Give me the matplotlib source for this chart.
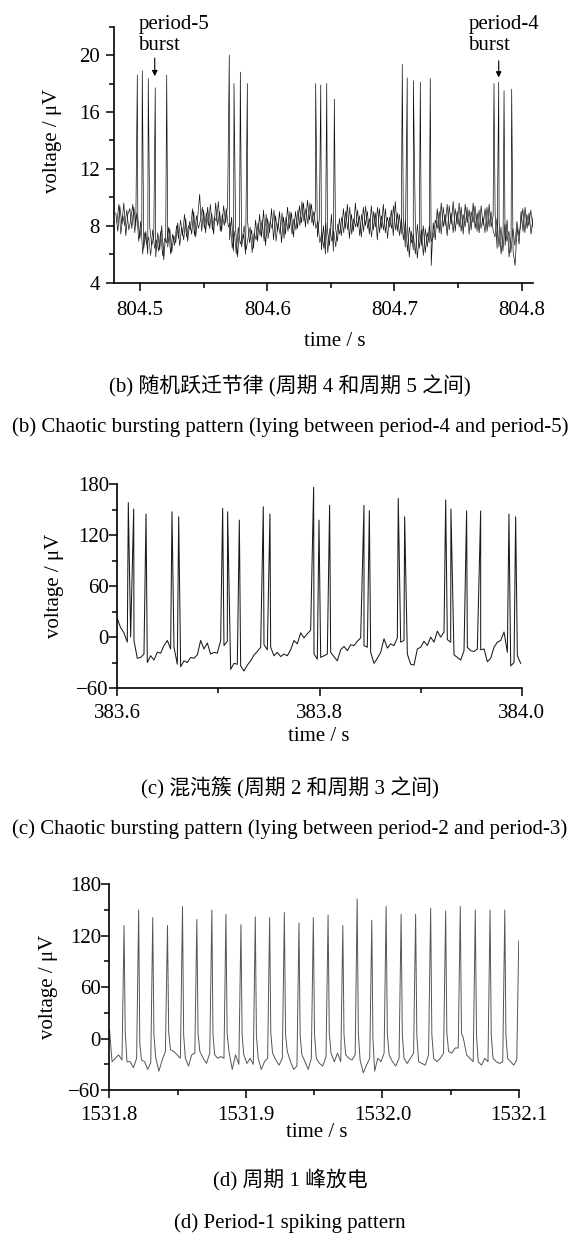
import numpy as np
import matplotlib
matplotlib.use("Agg")
import matplotlib.pyplot as plt
from matplotlib.ticker import MultipleLocator, FormatStrFormatter

plt.rcParams['font.family'] = ['Liberation Serif', 'Noto Sans CJK SC']
plt.rcParams['font.size'] = 15
plt.rcParams['axes.unicode_minus'] = True

# ---------------- panel (b): chaotic bursting, period-4 / period-5 ----------------
# noisy resting trace: two passes of evenly spaced samples
base1_a = [8.9, 7.6, 9.4, 8.1, 9.6, 7.3, 8.8, 9.2, 7.8, 9.3, 8.0,
           8.6, 7.1, 8.2, 6.4, 7.6, 6.0, 7.9, 6.6, 7.2, 5.8, 7.5, 6.3, 8.0, 5.6, 7.4, 6.5, 7.8, 6.1, 7.3, 6.8,
           8.2, 6.6, 7.9, 7.0, 8.5, 6.9, 8.3, 7.4, 9.0, 7.2, 8.6, 10.2, 7.6, 9.1, 7.5,
           9.3, 7.8, 8.9, 7.4, 9.6, 8.0, 9.0, 7.6, 9.4, 8.2, 9.5,
           7.0, 8.6, 6.2, 7.8, 5.8, 8.1, 6.5, 7.4, 6.0, 8.3, 6.8, 7.7, 6.4, 8.4,
           6.9, 8.8, 7.2, 9.1, 6.6, 8.5, 7.5, 9.2, 7.0, 8.7, 7.6, 9.0, 6.8, 8.6, 7.4, 9.3, 7.8, 8.9, 7.2, 9.0,
           7.8, 9.4, 8.2, 9.6, 7.9, 9.8, 8.4, 9.5, 8.0, 9.2,
           7.2, 8.6, 6.3, 8.0, 6.0, 7.7, 6.6, 8.8, 6.2, 7.9, 6.9, 8.5,
           7.3, 9.2, 7.8, 9.5, 7.1, 8.8, 7.6, 9.6, 7.9, 8.7, 7.2, 9.3, 8.0, 9.0, 7.4, 9.4,
           7.7, 8.9, 7.0, 9.2, 7.8, 9.5, 7.5, 8.6, 7.9, 9.1, 7.3, 9.7, 7.6, 8.8, 7.4,
           8.6, 6.5, 8.1, 5.8, 7.6, 6.3, 8.4, 5.7, 7.2, 6.6, 8.0, 6.1, 7.5, 6.8, 5.2, 8.2, 7.0,
           9.2, 7.5, 9.6, 7.9, 8.8, 7.3, 9.4, 8.1, 9.7, 7.6, 9.0, 7.9, 9.3, 7.4, 9.5,
           8.2, 9.1, 7.7, 9.6, 7.8, 8.9, 7.5, 9.4, 8.0, 9.2, 7.6, 9.5, 7.9, 8.7,
           8.8, 6.4, 8.2, 6.0, 7.5, 6.6, 8.4, 5.8, 7.3, 6.2, 5.2, 7.9, 6.7,
           9.0, 7.6, 9.3, 7.8, 8.9, 7.4, 8.6]
base1_b = [8.2, 9.5, 7.4, 8.7, 8.0, 9.1, 7.7, 8.4, 9.5, 7.5, 8.9,
           6.9, 8.3, 6.0, 7.5, 6.7, 7.2, 5.9, 7.7, 6.4, 7.0, 6.2, 7.6, 5.9, 7.1, 6.8, 7.9, 6.0, 7.4, 6.6, 8.0,
           7.1, 8.4, 7.3, 8.8, 7.2, 8.0, 7.7, 9.2, 7.3, 8.7, 7.8, 8.4, 9.3, 7.8, 8.9,
           8.0, 9.5, 7.7, 8.6, 8.3, 9.7, 7.6, 8.8, 8.0, 9.2, 7.9,
           8.2, 6.4, 7.6, 6.0, 7.9, 6.7, 7.1, 8.0, 6.3, 7.2, 7.9, 6.1, 7.5, 7.0,
           8.2, 7.3, 8.4, 6.9, 8.8, 7.1, 8.3, 7.8, 9.1, 6.9, 8.2, 7.4, 8.9, 7.1, 8.6, 7.6, 9.0, 7.4, 8.5, 7.7,
           9.1, 8.0, 9.7, 8.3, 9.2, 8.1, 9.6, 8.2, 9.0, 7.8,
           8.3, 6.8, 7.5, 6.4, 8.2, 6.1, 7.8, 6.9, 7.6, 6.5, 8.1, 7.4,
           8.6, 7.5, 9.0, 7.7, 9.3, 7.4, 8.5, 7.9, 9.1, 7.3, 8.8, 7.6, 9.4, 7.8, 8.5, 7.2,
           9.0, 7.9, 9.3, 7.5, 8.7, 7.7, 9.2, 7.1, 8.6, 7.8, 9.4, 7.7, 8.9, 7.3, 8.5,
           7.0, 8.4, 6.2, 7.9, 6.8, 7.4, 6.0, 8.1, 6.4, 7.7, 5.9, 7.8, 6.5, 8.0, 6.9, 7.2, 8.4,
           7.8, 9.0, 7.4, 9.3, 8.0, 9.5, 7.7, 8.9, 7.5, 9.2, 8.1, 9.6, 7.6, 8.8, 7.9,
           9.3, 7.4, 9.0, 8.2, 9.4, 7.6, 9.1, 7.8, 8.6, 7.5, 9.3, 7.9, 9.0, 7.7,
           7.2, 8.5, 6.5, 7.9, 6.2, 8.1, 6.9, 7.6, 6.1, 7.8, 6.6, 8.3, 7.3,
           8.1, 9.2, 7.5, 8.8, 8.0, 9.1, 7.9]
base1_a_span = (804.4810, 804.8090)
base1_b_span = (804.4818, 804.8088)
spk1_t = [804.4979, 804.5018, 804.5065, 804.5120, 804.5210,
          804.5702, 804.5739, 804.5789, 804.5844,
          804.6381, 804.6421, 804.6468, 804.6528,
          804.7062, 804.7101, 804.7149, 804.7204, 804.7282,
          804.7783, 804.7820, 804.7862, 804.7922]
spk1_v = [18.6, 18.9, 18.35, 17.7, 18.6,
          20.0, 18.0, 18.8, 18.0,
          18.0, 17.9, 18.0, 16.9,
          19.35, 18.4, 18.2, 18.1, 18.35,
          18.0, 18.1, 17.5, 17.6]
xt1 = [804.5, 804.6, 804.7, 804.8]
yt1 = [4, 8, 12, 16, 20]

# ---------------- panel (c): chaotic bursting, period-2 / period-3 ----------------
base2 = [21.7, 11, 5, -6, 0, -4, -25, -24, -20, -30,
         -22, -27, -18, -19, -10, -4, -14, -12, -32, -35,
         -28, -30, -24, -25, -21, -4, -14, -7, -20, -18,
         -19, -4, -10, -5, -38, -31, -32, -34, -40, -33,
         -28, -21, -17, -12, -9, -15, -12, -22, -18, -23,
         -20, -22, -15, -4, -8, 5, -1, 4, 8, -20,
         -26, -24, -22, -20, -18, -23, -28, -15, -11, -16,
         -9, -10, -5, -1, -10, -12, -18, -31, -25, -18,
         -2, -13, -8, -10, -1, -6, -4, -20, -32, -33,
         -14, -12, -5, -10, 0, -6, 7, 0, 6, -3,
         -6, -21, -24, -27, -16, -12, -16, -17, -14, -15,
         -14, -29, -25, -12, -6, -4, 6, -18, -34, -30,
         -22, -31]
base2_span = (383.6, 383.999)
spk2_t = [383.6109, 383.6162, 383.6284, 383.6541, 383.6607,
          383.7042, 383.7091, 383.7207, 383.7444, 383.7510,
          383.7942, 383.7995, 383.8100, 383.8440, 383.8493,
          383.8779, 383.8842, 383.9248, 383.9300, 383.9455,
          383.9594, 383.9874, 383.9940]
spk2_v = [158.3, 150.8, 145.0, 147.6, 141.7,
          151.6, 147.6, 137.8, 153.5, 145.0,
          176.5, 137.8, 155.2, 155.2, 149.0,
          163.5, 141.7, 161.5, 150.8, 148.6,
          148.6, 145.0, 141.7]
xt2 = [383.6, 383.8, 384.0]
yt2 = [-60, 0, 60, 120, 180]

# ---------------- panel (d): period-1 spiking ----------------
pre3_t = [1531.8002, 1531.8020, 1531.8044, 1531.8068, 1531.8093]
pre3_v = [10, -27, -23, -19, -25]
spk3_t = [1531.8108, 1531.8215, 1531.8318, 1531.8426, 1531.8536, 1531.8641, 1531.8751,
          1531.8854, 1531.8964, 1531.9069, 1531.9174, 1531.9282, 1531.9389, 1531.9494,
          1531.9602, 1531.9710, 1531.9815, 1531.9922, 1532.0027, 1532.0137, 1532.0243,
          1532.0353, 1532.0463, 1532.0570, 1532.0680, 1532.0788, 1532.0896, 1532.0998]
spk3_v = [132, 150, 141, 132, 154, 139, 150,
          145, 133, 142, 141, 147, 135, 141,
          144, 132, 163, 138, 154, 145, 145,
          152, 149, 154, 150, 150, 150, 114]
# resting values between consecutive spikes (read at 5 points per interval)
gap3_v = [[8, -27, -27, -34, -23], [-5, -25, -27, -36, -28], [5, -22, -38, -25, -15],
          [8, -13, -15, -19, -23], [4, -23, -32, -19, -17], [6, -15, -23, -29, -17],
          [5, -19, -23, -21, -23], [6, -15, -36, -19, -30], [4, -19, -29, -23, -30],
          [3, -23, -36, -27, -23], [6, -17, -25, -31, -23], [5, -15, -27, -36, -32],
          [4, -19, -27, -36, -23], [5, -23, -29, -32, -21], [7, -17, -27, -17, -27],
          [5, -19, -23, -25, -19], [6, -25, -40, -31, -23], [0, -38, -23, -27, -17],
          [6, -19, -27, -32, -23], [5, -23, -29, -23, -17], [4, -27, -29, -31, -19],
          [5, -23, -27, -23, -17], [7, -15, -17, -11, -11], [6, 1, -19, -23, -27],
          [4, -27, -31, -23, -27], [5, -23, -27, -29, -27], [4, -23, -27, -31, -25]]
gap_frac = [0.08, 0.2, 0.42, 0.64, 0.86]
xt3 = [1531.8, 1531.9, 1532.0, 1532.1]
yt3 = [-60, 0, 60, 120, 180]


def merge(t_a, v_a, t_b, v_b):
    t = np.concatenate([np.asarray(t_a, float), np.asarray(t_b, float)])
    v = np.concatenate([np.asarray(v_a, float), np.asarray(v_b, float)])
    order = np.argsort(t, kind='stable')
    return t[order], v[order]


def style_axes(ax, xpad, ypad):
    for side in ('top', 'right'):
        ax.spines[side].set_visible(False)
    for side in ('left', 'bottom'):
        ax.spines[side].set_linewidth(1.2)
    ax.tick_params(which='major', direction='out', length=5.5, width=1.1, labelsize=15)
    ax.tick_params(which='minor', direction='out', length=3.5, width=1.1)
    ax.tick_params(axis='x', which='major', pad=xpad)
    ax.tick_params(axis='y', which='major', pad=ypad)


W, H = 575, 1236
fig = plt.figure(figsize=(W / 100, H / 100), dpi=100)


def add_axes(left, top, right, bottom):
    return fig.add_axes([left / W, 1 - bottom / H, (right - left) / W, (bottom - top) / H])


# panel (b)
ax1 = add_axes(114.3, 26.7, 533.3, 282.5)
ta = np.linspace(base1_a_span[0], base1_a_span[1], len(base1_a))
tb = np.linspace(base1_b_span[0], base1_b_span[1], len(base1_b))
ax1.plot(tb, base1_b, color='#222222', lw=0.5)
tt, vv = merge(ta, base1_a, spk1_t, spk1_v)
ax1.plot(tt, vv, color='#111111', lw=0.5)
ax1.set_xlim(804.4798, 804.8092)
ax1.set_ylim(4, 22)
ax1.set_xticks(xt1)
ax1.set_yticks(yt1)
ax1.xaxis.set_minor_locator(MultipleLocator(0.05))
ax1.yaxis.set_minor_locator(MultipleLocator(2))
ax1.xaxis.set_major_formatter(FormatStrFormatter('%.1f'))
style_axes(ax1, 8.0, 5.0)
ax1.set_xlabel('time / s')
ax1.xaxis.set_label_coords(0.5255, -0.231)
ax1.xaxis.label.set_va('center')
ax1.set_ylabel('voltage / μV')
ax1.yaxis.set_label_coords(-0.147, 0.555)
ax1.yaxis.label.set_va('center')

ax1.text(804.4987, 22.85, 'period-5\nburst', ha='left', va='top', linespacing=1.15, fontsize=15)
ax1.text(804.7581, 22.85, 'period-4\nburst', ha='left', va='top', linespacing=1.15, fontsize=15)
arrow = dict(arrowstyle='-|>', color='black', lw=0.8, mutation_scale=8, shrinkA=0, shrinkB=0)
ax1.annotate('', xy=(804.5116, 18.52), xytext=(804.5116, 19.8), arrowprops=arrow, annotation_clip=False)
ax1.annotate('', xy=(804.7820, 18.43), xytext=(804.7820, 19.6), arrowprops=arrow, annotation_clip=False)

# panel (c)
ax2 = add_axes(117.3, 484.3, 521.7, 688.0)
t2 = np.linspace(base2_span[0], base2_span[1], len(base2))
tt, vv = merge(t2, base2, spk2_t, spk2_v)
ax2.plot(tt, vv, color='#1a1a1a', lw=0.75)
ax2.set_xlim(383.6, 384.0)
ax2.set_ylim(-60, 180)
ax2.set_xticks(xt2)
ax2.set_yticks(yt2)
ax2.xaxis.set_minor_locator(MultipleLocator(0.1))
ax2.yaxis.set_minor_locator(MultipleLocator(30))
ax2.xaxis.set_major_formatter(FormatStrFormatter('%.1f'))
style_axes(ax2, 6.0, 0.5)
ax2.set_xlabel('time / s')
ax2.xaxis.set_label_coords(0.4988, -0.239)
ax2.xaxis.label.set_va('center')
ax2.set_ylabel('voltage / μV')
ax2.yaxis.set_label_coords(-0.155, 0.5)
ax2.yaxis.label.set_va('center')

# panel (d)
ax3 = add_axes(109.3, 884.3, 519.0, 1090.0)
t3 = list(pre3_t)
v3 = list(pre3_v)
for k in range(len(spk3_t)):
    t3.append(spk3_t[k])
    v3.append(spk3_v[k])
    if k < len(gap3_v):
        for f, v in zip(gap_frac, gap3_v[k]):
            t3.append(spk3_t[k] + f * (spk3_t[k + 1] - spk3_t[k]))
            v3.append(v)
ax3.plot(t3, v3, color='#555555', lw=0.7)
ax3.set_xlim(1531.8, 1532.1)
ax3.set_ylim(-60, 180)
ax3.set_xticks(xt3)
ax3.set_yticks(yt3)
ax3.xaxis.set_minor_locator(MultipleLocator(0.05))
ax3.yaxis.set_minor_locator(MultipleLocator(30))
ax3.xaxis.set_major_formatter(FormatStrFormatter('%.1f'))
style_axes(ax3, 6.0, 0.5)
ax3.set_xlabel('time / s')
ax3.xaxis.set_label_coords(0.507, -0.2076)
ax3.xaxis.label.set_va('center')
ax3.set_ylabel('voltage / μV')
ax3.yaxis.set_label_coords(-0.148, 0.5)
ax3.yaxis.label.set_va('center')

# captions
captions = [
    (386, '(b) 随机跃迁节律 (周期 4 和周期 5 之间)'),
    (427, '(b) Chaotic bursting pattern (lying between period-4 and period-5)'),
    (788, '(c) 混沌簇 (周期 2 和周期 3 之间)'),
    (829, '(c) Chaotic bursting pattern (lying between period-2 and period-3)'),
    (1180, '(d) 周期 1 峰放电'),
    (1223, '(d) Period-1 spiking pattern'),
]
for y, txt in captions:
    fig.text(290 / W, 1 - y / H, txt, ha='center', va='center', fontsize=15)

fig.savefig('out.png', dpi=100)
